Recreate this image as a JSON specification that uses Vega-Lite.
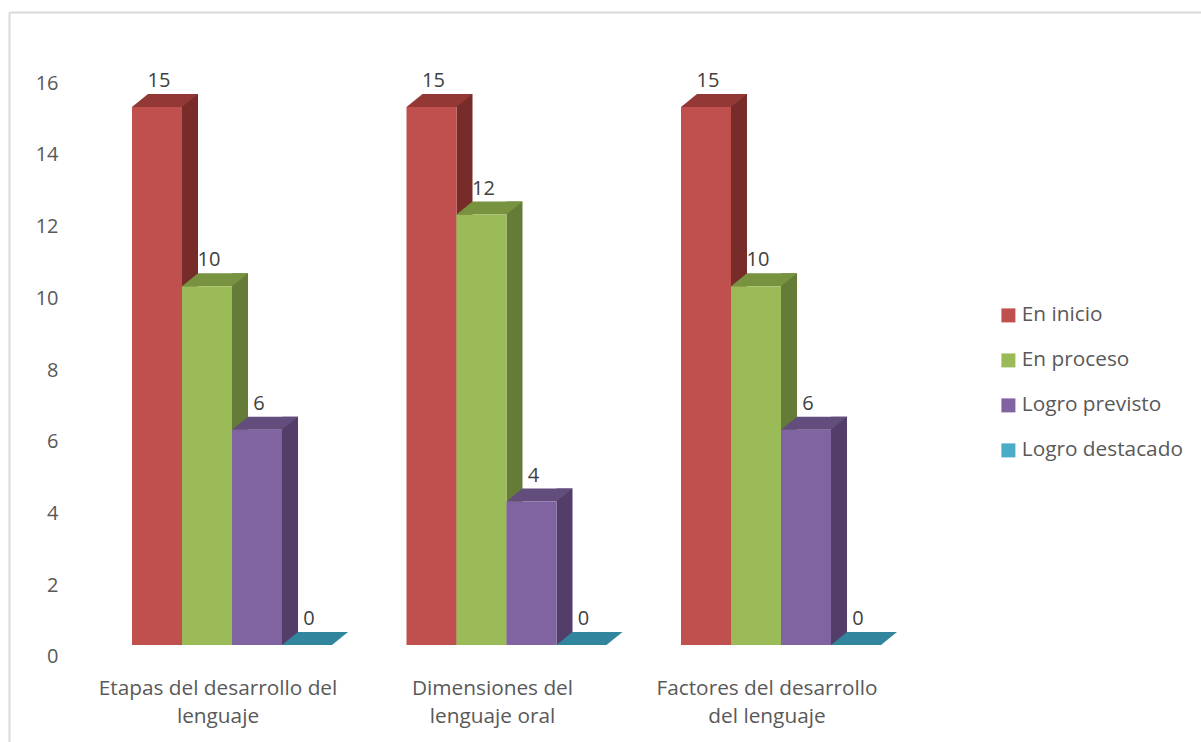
{
  "$schema": "https://vega.github.io/schema/vega-lite/v6.json",
  "width": 1192,
  "height": 730,
  "autosize": {"type": "none"},
  "padding": {"left": 9, "top": 12, "right": 0, "bottom": 0},
  "background": "white",
  "config": {"view": {"stroke": null}, "font": "Open Sans"},
  "data": {
    "values": [
      {"grupo": "Etapas del desarrollo del lenguaje", "serie": "En inicio", "valor": 15},
      {"grupo": "Etapas del desarrollo del lenguaje", "serie": "En proceso", "valor": 10},
      {"grupo": "Etapas del desarrollo del lenguaje", "serie": "Logro previsto", "valor": 6},
      {"grupo": "Etapas del desarrollo del lenguaje", "serie": "Logro destacado", "valor": 0},
      {"grupo": "Dimensiones del lenguaje oral", "serie": "En inicio", "valor": 15},
      {"grupo": "Dimensiones del lenguaje oral", "serie": "En proceso", "valor": 12},
      {"grupo": "Dimensiones del lenguaje oral", "serie": "Logro previsto", "valor": 4},
      {"grupo": "Dimensiones del lenguaje oral", "serie": "Logro destacado", "valor": 0},
      {"grupo": "Factores del desarrollo del lenguaje", "serie": "En inicio", "valor": 15},
      {"grupo": "Factores del desarrollo del lenguaje", "serie": "En proceso", "valor": 10},
      {"grupo": "Factores del desarrollo del lenguaje", "serie": "Logro previsto", "valor": 6},
      {"grupo": "Factores del desarrollo del lenguaje", "serie": "Logro destacado", "valor": 0}
    ]
  },
  "layer": [
    {
      "transform": [{"filter": "datum.valor > 0"}],
      "mark": {"type": "bar", "width": 16, "yOffset": -13},
      "encoding": {
        "x": {
          "field": "grupo", "type": "nominal", "sort": null,
          "scale": {"paddingInner": 0, "paddingOuter": 0.6712, "align": 0.2327},
          "axis": {
            "orient": "bottom", "offset": -64, "labelPadding": 0, "domain": false, "ticks": false,
            "grid": false, "title": null, "labelAngle": 0, "labelFontSize": 20.8, "labelColor": "#595959",
            "labelLineHeight": 28, "labelBaseline": "top", "labelOffset": -14, "labelLimit": 0,
            "labelExpr": "datum.value == 'Etapas del desarrollo del lenguaje' ? ['Etapas del desarrollo del', 'lenguaje'] : datum.value == 'Dimensiones del lenguaje oral' ? ['Dimensiones del', 'lenguaje oral'] : ['Factores del desarrollo', 'del lenguaje']"
          }
        },
        "xOffset": {
          "field": "serie", "type": "nominal",
          "scale": {"type": "band", "domain": ["En inicio", "En proceso", "Logro previsto", "Logro destacado"], "paddingInner": 0, "paddingOuter": 0.745, "align": 0.943}
        },
        "y": {
          "field": "valor", "type": "quantitative",
          "scale": {"domain": [-2.704, 17.645], "nice": false, "zero": false},
          "axis": {
            "orient": "left", "offset": -49, "labelPadding": 0, "values": [0, 2, 4, 6, 8, 10, 12, 14, 16],
            "domain": false, "ticks": false, "grid": false, "title": null, "labelFontSize": 20,
            "labelColor": "#595959", "labelOffset": 12
          }
        },
        "y2": {"datum": 0},
        "color": {
          "field": "serie", "type": "nominal",
          "scale": {"domain": ["En inicio", "En proceso", "Logro previsto", "Logro destacado"], "range": ["#772C2A", "#647C38", "#533E6A", "#276A7C"]},
          "legend": null
        }
      }
    },
    {
      "mark": {"type": "point", "shape": "M-0.5,0L0.5,0L0.82,-0.26L-0.18,-0.26Z", "size": 10000, "filled": true, "opacity": 1, "strokeWidth": 0},
      "encoding": {
        "x": {
          "field": "grupo", "type": "nominal", "sort": null,
          "axis": {"orient": "top", "domain": true, "domainColor": "#D9D9D9", "domainWidth": 2, "labels": false, "ticks": false, "grid": false, "title": null}
        },
        "xOffset": {
          "field": "serie", "type": "nominal",
          "scale": {"type": "band", "domain": ["En inicio", "En proceso", "Logro previsto", "Logro destacado"], "paddingInner": 0, "paddingOuter": 0.745}
        },
        "y": {
          "field": "valor", "type": "quantitative",
          "axis": {"orient": "left", "domain": true, "domainColor": "#D9D9D9", "domainWidth": 2, "labels": false, "ticks": false, "grid": false, "title": null}
        },
        "color": {
          "field": "serie", "type": "nominal",
          "scale": {"domain": ["En inicio", "En proceso", "Logro previsto", "Logro destacado"], "range": ["#943836", "#77933F", "#634D7D", "#31859C"]},
          "legend": null
        }
      }
    },
    {
      "mark": {"type": "bar"},
      "encoding": {
        "x": {"field": "grupo", "type": "nominal", "sort": null, "axis": null},
        "xOffset": {
          "field": "serie", "type": "nominal",
          "scale": {"type": "band", "domain": ["En inicio", "En proceso", "Logro previsto", "Logro destacado"], "paddingInner": 0, "paddingOuter": 0.745}
        },
        "y": {"field": "valor", "type": "quantitative", "axis": null},
        "y2": {"datum": 0},
        "color": {
          "field": "serie", "type": "nominal",
          "scale": {"domain": ["En inicio", "En proceso", "Logro previsto", "Logro destacado"], "range": ["#C0504D", "#9BBB59", "#8064A2", "#4BACC6"]},
          "legend": {
            "orient": "none", "legendX": 989, "legendY": 293, "title": null, "padding": 0,
            "symbolType": "square", "symbolSize": 196, "symbolStrokeWidth": 0, "labelLimit": 0,
            "labelFontSize": 20.8, "labelColor": "#595959", "labelOffset": 3, "rowPadding": 23
          }
        }
      }
    },
    {
      "mark": {"type": "text", "dy": -26, "dx": 2, "fontSize": 20, "color": "#404040"},
      "encoding": {
        "x": {"field": "grupo", "type": "nominal", "sort": null, "axis": null},
        "xOffset": {
          "field": "serie", "type": "nominal",
          "scale": {"type": "band", "domain": ["En inicio", "En proceso", "Logro previsto", "Logro destacado"], "paddingInner": 0, "paddingOuter": 0.745}
        },
        "y": {"field": "valor", "type": "quantitative", "axis": null},
        "text": {"field": "valor", "type": "quantitative"}
      }
    }
  ],
  "resolve": {
    "scale": {"color": "independent", "xOffset": "independent"},
    "axis": {"x": "independent", "y": "independent"}
  }
}
